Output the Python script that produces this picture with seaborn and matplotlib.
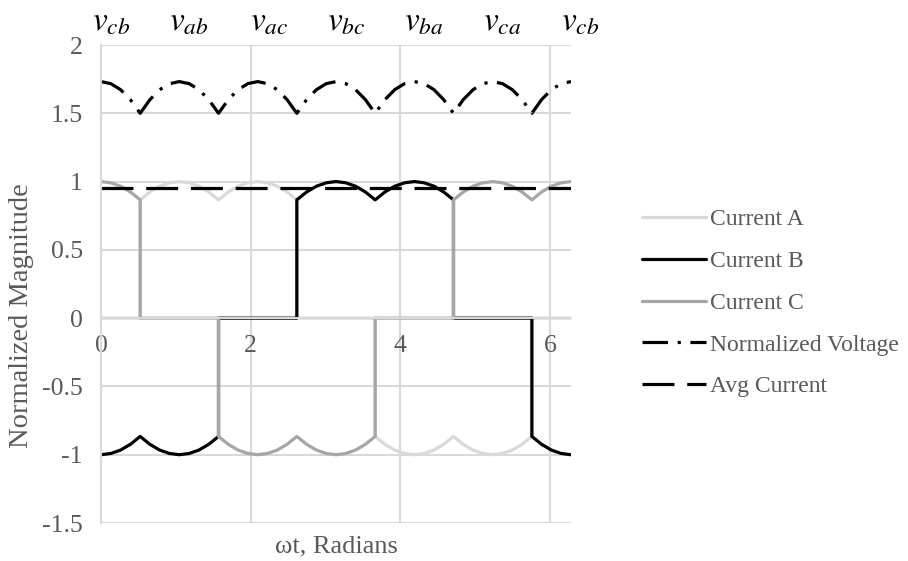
import matplotlib
matplotlib.use("Agg")
import matplotlib.pyplot as plt
import seaborn as sns

# Phase angle samples in radians; commutation instants appear twice so the
# current steps are drawn as vertical edges.
x_current = [0.000, 0.131, 0.262, 0.393, 0.524, 0.524, 0.654, 0.785, 0.916,
             1.047, 1.178, 1.309, 1.440, 1.571, 1.571, 1.702, 1.833, 1.963,
             2.094, 2.225, 2.356, 2.487, 2.618, 2.618, 2.749, 2.880, 3.011,
             3.142, 3.272, 3.403, 3.534, 3.665, 3.665, 3.796, 3.927, 4.058,
             4.189, 4.320, 4.451, 4.581, 4.712, 4.712, 4.843, 4.974, 5.105,
             5.236, 5.367, 5.498, 5.629, 5.760, 5.760, 5.890, 6.021, 6.152,
             6.283]

current_a = [0, 0, 0, 0, 0, 0.866,
             0.924, 0.966, 0.991, 1, 0.991, 0.966, 0.924, 0.866, 0.866,
             0.924, 0.966, 0.991, 1, 0.991, 0.966, 0.924, 0.866, 0,
             0, 0, 0, 0, 0, 0, 0, 0, -0.866,
             -0.924, -0.966, -0.991, -1, -0.991, -0.966, -0.924, -0.866, -0.866,
             -0.924, -0.966, -0.991, -1, -0.991, -0.966, -0.924, -0.866, 0,
             0, 0, 0, 0]

current_b = [-1, -0.991, -0.966, -0.924, -0.866, -0.866,
             -0.924, -0.966, -0.991, -1, -0.991, -0.966, -0.924, -0.866, 0,
             0, 0, 0, 0, 0, 0, 0, 0, 0.866,
             0.924, 0.966, 0.991, 1, 0.991, 0.966, 0.924, 0.866, 0.866,
             0.924, 0.966, 0.991, 1, 0.991, 0.966, 0.924, 0.866, 0,
             0, 0, 0, 0, 0, 0, 0, 0, -0.866,
             -0.924, -0.966, -0.991, -1]

current_c = [1, 0.991, 0.966, 0.924, 0.866, 0,
             0, 0, 0, 0, 0, 0, 0, 0, -0.866,
             -0.924, -0.966, -0.991, -1, -0.991, -0.966, -0.924, -0.866, -0.866,
             -0.924, -0.966, -0.991, -1, -0.991, -0.966, -0.924, -0.866, 0,
             0, 0, 0, 0, 0, 0, 0, 0, 0.866,
             0.924, 0.966, 0.991, 1, 0.991, 0.966, 0.924, 0.866, 0.866,
             0.924, 0.966, 0.991, 1]

x_voltage = [0.000, 0.131, 0.262, 0.393, 0.524, 0.654, 0.785, 0.916,
             1.047, 1.178, 1.309, 1.440, 1.571, 1.702, 1.833, 1.963,
             2.094, 2.225, 2.356, 2.487, 2.618, 2.749, 2.880, 3.011,
             3.142, 3.272, 3.403, 3.534, 3.665, 3.796, 3.927, 4.058,
             4.189, 4.320, 4.451, 4.581, 4.712, 4.843, 4.974, 5.105,
             5.236, 5.367, 5.498, 5.629, 5.760, 5.890, 6.021, 6.152,
             6.283]

voltage_norm = [1.732, 1.717, 1.673, 1.600, 1.500, 1.600, 1.673, 1.717,
                1.732, 1.717, 1.673, 1.600, 1.500, 1.600, 1.673, 1.717,
                1.732, 1.717, 1.673, 1.600, 1.500, 1.600, 1.673, 1.717,
                1.732, 1.717, 1.673, 1.600, 1.500, 1.600, 1.673, 1.717,
                1.732, 1.717, 1.673, 1.600, 1.500, 1.600, 1.673, 1.717,
                1.732, 1.717, 1.673, 1.600, 1.500, 1.600, 1.673, 1.717,
                1.732]

x_avg = [0.000, 6.283]
avg_current = [0.955, 0.955]

line_voltage_names = [r"$v_{cb}$", r"$v_{ab}$", r"$v_{ac}$", r"$v_{bc}$",
                      r"$v_{ba}$", r"$v_{ca}$", r"$v_{cb}$"]

x_ticks = [0, 2, 4, 6]
y_ticks = [-1.5, -1, -0.5, 0, 0.5, 1, 1.5, 2]
y_tick_labels = ["-1.5", "-1", "-0.5", "0", "0.5", "1", "1.5", "2"]

sns.set_theme(style="white")
plt.rcParams["font.family"] = ["Liberation Serif", "DejaVu Serif"]
plt.rcParams["mathtext.fontset"] = "stix"

W, H = 908, 561
fig = plt.figure(figsize=(W / 100, H / 100), dpi=100)
ax = fig.add_axes([101 / W, 1 - 523 / H, 470 / W, 478 / H])

grid_col = "#d9d9d9"
text_col = "#595959"

sns.lineplot(x=x_current, y=current_a, estimator=None, sort=False, ax=ax,
             color="#d9d9d9", lw=2.3, label="Current A")
sns.lineplot(x=x_current, y=current_b, estimator=None, sort=False, ax=ax,
             color="#000000", lw=2.3, label="Current B")
sns.lineplot(x=x_current, y=current_c, estimator=None, sort=False, ax=ax,
             color="#a6a6a6", lw=2.3, label="Current C")
sns.lineplot(x=x_voltage, y=voltage_norm, estimator=None, sort=False, ax=ax,
             color="#000000", lw=2.3, label="Normalized Voltage",
             linestyle=(0, (8, 3, 1, 3)), dash_capstyle="butt")
sns.lineplot(x=x_avg, y=avg_current, estimator=None, sort=False, ax=ax,
             color="#000000", lw=2.3, label="Avg Current",
             linestyle=(0, (10, 4)), dash_capstyle="butt")

ax.set_xlim(0, 6.283)
ax.set_ylim(-1.5, 2)
ax.set_xticks(x_ticks)
ax.set_xticklabels([str(t) for t in x_ticks])
ax.set_yticks(y_ticks)
ax.set_yticklabels(y_tick_labels)
ax.grid(True, color=grid_col, lw=1.5)
ax.set_axisbelow(True)

for side in ("top", "right"):
    ax.spines[side].set_visible(False)
ax.spines["bottom"].set_position(("data", 0))
ax.spines["bottom"].set_color(grid_col)
ax.spines["bottom"].set_linewidth(1.5)
ax.spines["left"].set_color(grid_col)
ax.spines["left"].set_linewidth(1.5)
ax.tick_params(axis="both", length=0, labelsize=18.5, labelcolor=text_col)
ax.tick_params(axis="x", pad=12)
ax.tick_params(axis="y", pad=13)
ax.set_xlabel("")
ax.set_ylabel("")

fig.text(336 / W, 1 - 546 / H, "ωt, Radians", ha="center", va="center",
         fontsize=19, color=text_col)
fig.text(22 / W, 1 - 316 / H, "Normalized Magnitude", ha="center",
         va="center", rotation=90, fontsize=20.5, color=text_col)

label_px = [111, 189, 269, 346, 424, 502, 580]
for px, name in zip(label_px, line_voltage_names):
    fig.text(px / W, 1 - 22 / H, name, ha="center", va="center",
             fontsize=24, color="#000000")

ax.legend(loc="center left", bbox_to_anchor=(642 / W, 1 - 303 / H),
          bbox_transform=fig.transFigure, frameon=False, fontsize=17,
          handlelength=2.7, handletextpad=0.2, labelspacing=0.86,
          borderpad=0, borderaxespad=0, labelcolor=text_col)

fig.savefig("out.png", dpi=100)
